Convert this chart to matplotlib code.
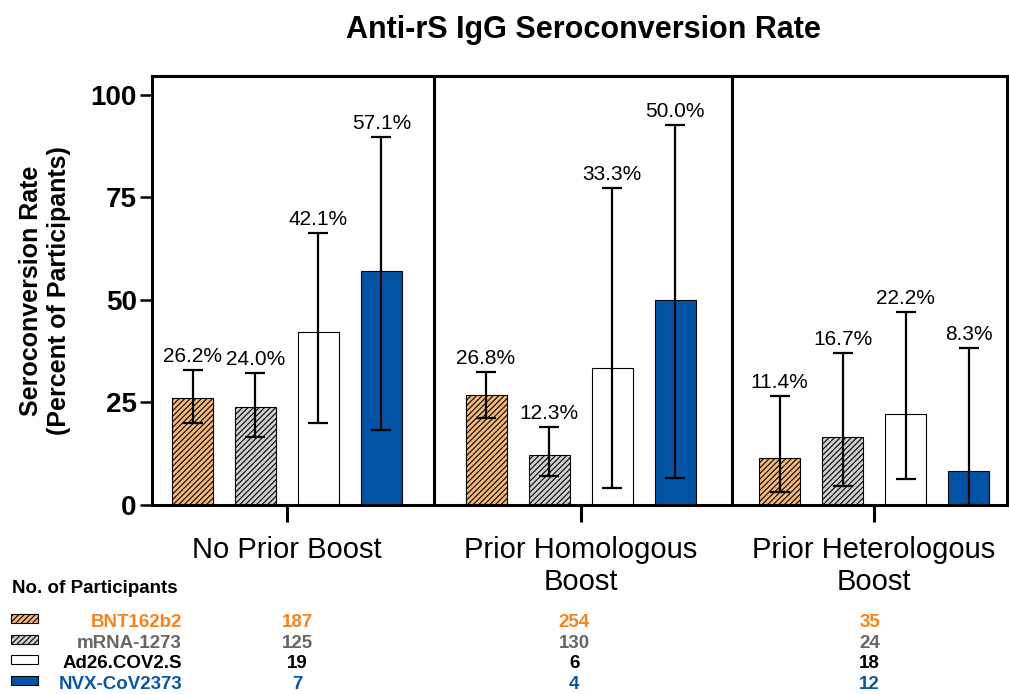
import numpy as np
import matplotlib
matplotlib.use("Agg")
import matplotlib.pyplot as plt
from matplotlib.patches import Rectangle
from matplotlib.transforms import blended_transform_factory

plt.rcParams['font.family'] = ['Liberation Sans', 'DejaVu Sans']
plt.rcParams['hatch.linewidth'] = 0.8

# data
groups = ["No Prior Boost", "Prior Homologous\nBoost", "Prior Heterologous\nBoost"]
vaccines = ["BNT162b2", "mRNA-1273", "Ad26.COV2.S", "NVX-CoV2373"]
rate = [[26.2, 24.0, 42.1, 57.1],
        [26.8, 12.3, 33.3, 50.0],
        [11.4, 16.7, 22.2, 8.3]]
ci_low = [[20.0, 16.6, 20.0, 18.3],
          [21.2, 7.1, 4.1, 6.6],
          [3.2, 4.6, 6.3, 0.0]]
ci_high = [[32.9, 32.2, 66.3, 89.8],
           [32.4, 19.0, 77.3, 92.7],
           [26.6, 37.1, 47.1, 38.3]]
n_part = [[187, 125, 19, 7],
          [254, 130, 6, 4],
          [35, 24, 18, 12]]

fills = ['#F5B878', '#D0D0D0', 'white', '#0353A4']
hatches = ['//////', '//////', None, None]
text_cols = ['#F7821E', '#666666', 'black', '#0A56A6']

W, H = 1009, 694
fig = plt.figure(figsize=(W / 100, H / 100), dpi=100)
ax = fig.add_axes([152 / W, 189 / H, 855 / W, 429 / H])

gap = 4.66
centers = np.arange(3) * gap
offs = np.array([-1.5, -0.5, 0.5, 1.5])
num_shift = [0.16, -0.10, -0.07]   # count column offsets under each group

for g in range(3):
    for v in range(4):
        x = centers[g] + offs[v]
        val = rate[g][v]
        ax.bar(x, val, width=0.65, color=fills[v], edgecolor='black',
               linewidth=0.8, hatch=hatches[v], zorder=2)
        lo = val - ci_low[g][v]
        hi = ci_high[g][v] - val
        ax.errorbar(x, val, yerr=[[lo], [hi]], fmt='none', ecolor='black',
                    elinewidth=1.6, capsize=7.5, capthick=1.6, zorder=3)
        ax.annotate(f"{val:.1f}%", (x, ci_high[g][v]), xytext=(0, 3),
                    textcoords='offset points', ha='center', va='bottom',
                    fontsize=15)

for sx in [2.333, 7.06]:
    ax.axvline(sx, color='black', lw=2.2, zorder=4)

ax.set_xlim(-2.143, 11.43)
ax.set_ylim(0, 104.6)
ax.set_yticks([0, 25, 50, 75, 100])
ax.set_yticklabels(['0', '25', '50', '75', '100'], fontsize=20, fontweight='bold')
ax.set_xticks(centers)
ax.set_xticklabels(groups, fontsize=21)
ax.tick_params(axis='y', length=9, width=1.8, pad=2)
ax.tick_params(axis='x', length=12, width=2.2, pad=10)
for s in ax.spines.values():
    s.set_linewidth(2.2)
ax.set_ylabel("Seroconversion Rate\n(Percent of Participants)", fontsize=18,
              fontweight='bold', labelpad=14)

fig.text(0.578, (H - 38) / H, "Anti-rS IgG Seroconversion Rate", ha='center',
         va='baseline', fontsize=22, fontweight='bold')

# participants table
fig.text(12 / W, (H - 593) / H, "No. of Participants", ha='left', va='baseline',
         fontsize=13.5, fontweight='bold')
trans = blended_transform_factory(ax.transData, fig.transFigure)
baselines = [627, 648, 668, 689]
for v in range(4):
    yb = (H - baselines[v]) / H
    fig.add_artist(Rectangle((11 / W, (H - baselines[v] + 4) / H), 27 / W, 9 / H,
                             transform=fig.transFigure, facecolor=fills[v],
                             edgecolor='black', linewidth=0.8, hatch=hatches[v]))
    fig.text(182 / W, yb, vaccines[v], ha='right', va='baseline', fontsize=13.5,
             fontweight='bold', color=text_cols[v])
    for g in range(3):
        ax.text(centers[g] + num_shift[g], yb, str(n_part[g][v]), transform=trans,
                ha='center', va='baseline', fontsize=13.5, fontweight='bold',
                color=text_cols[v])

fig.savefig("out.png", dpi=100)
